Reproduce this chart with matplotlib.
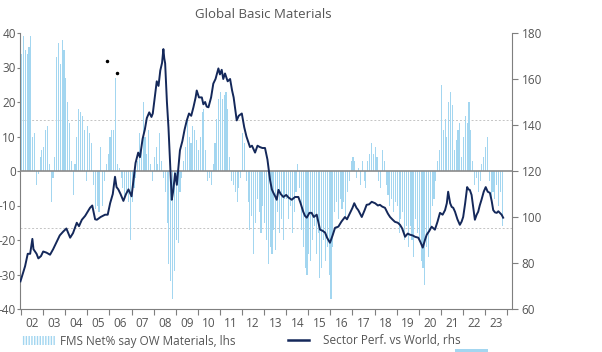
import matplotlib
matplotlib.use('Agg')
import matplotlib.pyplot as plt
import numpy as np
from matplotlib.patches import Patch, Rectangle
from matplotlib.lines import Line2D

plt.rcParams['font.family'] = ['Open Sans', 'DejaVu Sans']
plt.rcParams['axes.unicode_minus'] = False

# ---------------- data ----------------
title = "Global Basic Materials"
bar_label = "FMS Net% say OW Materials, lhs"
line_label = "Sector Perf. vs World, rhs"

year_labels = ['02', '03', '04', '05', '06', '07', '08', '09', '10', '11', '12',
               '13', '14', '15', '16', '17', '18', '19', '20', '21', '22', '23']

# FMS net % overweight materials, monthly from Jan 2002
fms_2002 = [34, 39, 35, 34, 36, 39, 10, 11, -4, -1, 4, 6]
fms_2003 = [7, 12, 13, 2, -9, -2, 4, 33, 37, 31, 38, 35]
fms_2004 = [27, 20, 14, 3, -7, 2, 10, 18, 17, 16, 12, -3]
fms_2005 = [13, 11, 8, -4, -11, -10, -12, 7, -10, -3, 2, 5]
fms_2006 = [10, 12, 12, 27, 2, 1, -2, -5, -8, -6, -9, -20]
fms_2007 = [-9, -5, -2, 3, 11, 8, 20, 10, 5, 12, 2, -3]
fms_2008 = [4, 7, 2, 11, 3, -2, -6, -15, -27, -32, -37, -29]
fms_2009 = [-20, -21, -6, -2, 3, 7, 16, 10, 8, 13, 12, 9]
fms_2010 = [6, 10, 17, 18, 6, -3, -2, -4, 2, 8, 15, 21]
fms_2011 = [23, 21, 22, 23, 18, 4, -3, -4, -6, -9, -5, -2]
fms_2012 = [11, 8, -3, -9, -17, -13, -24, -15, -8, -12, -18, -10]
fms_2013 = [-15, -20, -27, -22, -24, -17, -23, -12, -18, -14, -20, -8]
fms_2014 = [-8, -14, -10, -18, -12, -6, 2, -5, -17, -22, -28, -30]
fms_2015 = [-24, -26, -20, -16, -24, -18, -31, -28, -20, -26, -22, -30]
fms_2016 = [-37, -22, -12, -9, -14, -8, -11, -9, -13, -6, -3, 3]
fms_2017 = [4, 3, -2, 1, -4, 3, -3, -5, 3, 5, 8, 5]
fms_2018 = [7, 4, -3, -5, 6, 3, -4, -7, -10, -8, -12, -9]
fms_2019 = [-10, -18, -14, -12, -20, -16, -22, -16, -20, -25, -14, -18]
fms_2020 = [-20, -26, -28, -33, -22, -25, -16, -10, -8, -3, 3, 6]
fms_2021 = [25, 12, 15, 10, 20, 23, 19, 6, 9, 12, 14, 4]
fms_2022 = [10, 16, 14, 20, 12, 3, -4, -2, -6, -3, 2, 4]
fms_2023 = [7, 10, -3, -9, -6, -8, -4, -10, -6, -16]

fms_net = (fms_2002 + fms_2003 + fms_2004 + fms_2005 + fms_2006 + fms_2007 +
           fms_2008 + fms_2009 + fms_2010 + fms_2011 + fms_2012 + fms_2013 +
           fms_2014 + fms_2015 + fms_2016 + fms_2017 + fms_2018 + fms_2019 +
           fms_2020 + fms_2021 + fms_2022 + fms_2023)
fms_dates = 2002 + np.arange(len(fms_net)) / 12.0

# Sector relative performance vs world (rhs)
perf_dates = [
    2001.97, 2002.1, 2002.18, 2002.3, 2002.41, 2002.51, 2002.56, 2002.63, 2002.7, 2002.78,
    2002.9, 2003.0, 2003.15, 2003.31, 2003.45, 2003.62, 2003.75, 2003.91, 2004.05, 2004.22,
    2004.35, 2004.52, 2004.62, 2004.75, 2004.9, 2005.12, 2005.22, 2005.35, 2005.43, 2005.6,
    2005.8, 2005.92, 2006.03, 2006.15, 2006.25, 2006.32, 2006.4, 2006.5, 2006.63, 2006.75,
    2006.86, 2007.0, 2007.1, 2007.18, 2007.3, 2007.38, 2007.5, 2007.6, 2007.69, 2007.8,
    2007.9, 2007.96, 2008.05, 2008.14, 2008.22, 2008.3, 2008.38, 2008.44, 2008.48, 2008.52,
    2008.6, 2008.67, 2008.75, 2008.82, 2008.88, 2008.97, 2009.05, 2009.19, 2009.3, 2009.4,
    2009.5, 2009.6, 2009.7, 2009.8, 2009.9, 2009.95, 2010.05, 2010.18, 2010.25, 2010.33,
    2010.4, 2010.48, 2010.6, 2010.7, 2010.8, 2010.93, 2011.0, 2011.08, 2011.15, 2011.23,
    2011.35, 2011.46, 2011.55, 2011.62, 2011.68, 2011.76, 2011.85, 2011.99, 2012.1, 2012.2,
    2012.36, 2012.45, 2012.59, 2012.7, 2012.81, 2012.92, 2013.04, 2013.15, 2013.27, 2013.35,
    2013.42, 2013.5, 2013.57, 2013.65, 2013.75, 2013.87, 2014.0, 2014.1, 2014.25, 2014.4,
    2014.55, 2014.65, 2014.77, 2014.85, 2014.93, 2015.05, 2015.15, 2015.25, 2015.38, 2015.45,
    2015.53, 2015.65, 2015.76, 2015.85, 2015.98, 2016.1, 2016.21, 2016.36, 2016.5, 2016.66,
    2016.75, 2016.89, 2017.0, 2017.08, 2017.18, 2017.26, 2017.42, 2017.55, 2017.64, 2017.75,
    2017.87, 2018.02, 2018.15, 2018.24, 2018.35, 2018.47, 2018.6, 2018.7, 2018.8, 2018.92,
    2019.05, 2019.15, 2019.25, 2019.38, 2019.5, 2019.6, 2019.72, 2019.83, 2019.98, 2020.08,
    2020.18, 2020.28, 2020.36, 2020.48, 2020.58, 2020.73, 2020.85, 2020.96, 2021.08, 2021.19,
    2021.27, 2021.33, 2021.42, 2021.49, 2021.56, 2021.64, 2021.75, 2021.86, 2021.94, 2022.01,
    2022.1, 2022.19, 2022.25, 2022.31, 2022.39, 2022.47, 2022.54, 2022.62, 2022.69, 2022.76,
    2022.84, 2022.94, 2023.03, 2023.12, 2023.22, 2023.3, 2023.37, 2023.45, 2023.53, 2023.6,
    2023.67, 2023.75, 2023.82]
perf_values = [
    72, 76, 78.6, 84, 84, 90.5, 86, 85, 84, 82,
    83, 85, 84.5, 83.6, 86, 89.4, 92, 93.7, 95, 91,
    93, 97.5, 96, 98.8, 100.5, 104, 105, 99, 98.8, 100,
    101, 101, 106, 110, 117.5, 113, 112, 110, 107, 110,
    112, 109, 117, 123.5, 128, 126, 134, 138, 143, 145.5,
    143.5, 145, 152, 159, 157, 163.7, 167, 173, 169, 166.8,
    150, 139, 122, 107.5, 111, 119, 114, 129, 133, 138,
    142, 145, 144, 147.7, 152, 155, 152, 152, 149, 150,
    148, 147.7, 152, 158, 160, 164.6, 162, 164, 160, 162.4,
    159, 160, 155, 152, 147.7, 142, 144, 145, 139, 135,
    130.4, 131, 128, 131, 130.4, 130, 130, 125, 116, 112,
    110.5, 109, 107.5, 111.8, 110, 108.7, 109.6, 108.5, 107.5, 108.7,
    108.7, 106, 102.3, 100.5, 99.7, 101.8, 101.8, 100, 101, 98,
    94.5, 94, 93.2, 91, 88.8, 92, 95.3, 95.8, 98, 100,
    99, 101.8, 104, 106, 104, 103, 100, 103, 105.3, 105.5,
    106.6, 106, 105, 105.3, 104.5, 104, 101.5, 100, 99, 97.9,
    97.5, 96.6, 95, 91.4, 92.8, 92.3, 92, 91.4, 91, 89,
    86.7, 90, 92.3, 94, 95.8, 94.5, 98, 101.8, 101, 103,
    106, 111, 106, 104.4, 104, 102.3, 99, 96.6, 98, 100,
    106, 113, 112, 111.8, 109.6, 104, 98.8, 101, 102.3, 105,
    107.5, 111, 113, 111, 110.5, 107, 103, 102, 101.8, 102.5,
    101.8, 101, 99.7]

band_levels = [14.7, -16.5]
stray_dot_x = [2005.89, 2006.34]
stray_dot_y = [32, 28.3]

# ---------------- styling ----------------
bar_color = '#a3d6f0'
line_color = '#14285a'
axis_color = '#7f7f7f'
text_color = '#555555'
fs = 8.5

fig = plt.figure(figsize=(6.02, 3.52), dpi=100)
ax = fig.add_axes([20 / 602, 1 - 309 / 352, 492 / 602, 276 / 352])
ax2 = ax.twinx()

ax.bar(fms_dates, fms_net, width=0.6 / 12, color=bar_color, linewidth=0,
       align='edge', zorder=2)
ax.axhline(0, color='#8a8a8a', lw=1.2, zorder=3)
for lvl in band_levels:
    ax.axhline(lvl, color='#c4c4c4', lw=0.7, ls=(0, (2, 2)), zorder=1)
ax.plot(stray_dot_x, stray_dot_y, 'o', color='black', ms=1.5, zorder=4)

ax2.plot(perf_dates, perf_values, color=line_color, lw=1.4, zorder=5)

ax.set_xlim(2001.95, 2024.22)
ax.set_ylim(-40, 40)
ax2.set_ylim(60, 180)
ax.set_yticks(np.arange(-40, 41, 10))
ax2.set_yticks(np.arange(60, 181, 20))

ax.set_xticks(np.arange(2002, 2025), minor=False)
ax.set_xticklabels([])
ax.set_xticks(np.arange(2002, 2024) + 0.5, minor=True)
ax.set_xticklabels(year_labels, minor=True)
ax.tick_params(axis='x', which='major', length=4, width=0.8, color=axis_color,
               direction='out')
ax.tick_params(axis='x', which='minor', length=0, pad=6, labelsize=fs,
               labelcolor=text_color)
ax.tick_params(axis='y', length=2, width=0.8, color=axis_color, pad=1,
               labelsize=fs, labelcolor=text_color)
ax2.tick_params(axis='y', length=4, width=0.8, color=axis_color, pad=3,
                labelsize=fs, labelcolor=text_color)

for a in (ax, ax2):
    a.spines['top'].set_visible(False)
    for s in a.spines.values():
        s.set_color(axis_color)
        s.set_linewidth(0.8)
ax.spines['right'].set_visible(False)
ax2.spines['left'].set_visible(False)
ax2.spines['bottom'].set_visible(False)

fig.text(263 / 602, 1 - 15 / 352, title, ha='center', va='center',
         fontsize=9.5, color=text_color)

# legends
bar_handle = Patch(facecolor='white', edgecolor=bar_color, hatch='||||||', lw=0)
line_handle = Line2D([0], [0], color=line_color, lw=1.8)
leg1 = fig.legend([bar_handle], [bar_label], loc='center left',
                  bbox_to_anchor=(22 / 602, 1 - 341 / 352), frameon=False,
                  fontsize=fs, handlelength=2.8, handleheight=0.9,
                  handletextpad=0.45, borderpad=0, borderaxespad=0,
                  labelcolor=text_color)
leg2 = fig.legend([line_handle], [line_label], loc='center left',
                  bbox_to_anchor=(288 / 602, 1 - 341 / 352), frameon=False,
                  fontsize=fs, handlelength=1.8, handletextpad=1.2,
                  borderpad=0, borderaxespad=0, labelcolor=text_color)
fig.add_artist(Rectangle((455 / 602, 0), 33 / 602, 3 / 352,
                         transform=fig.transFigure, color=bar_color, lw=0))

fig.savefig('out.png', dpi=100)
